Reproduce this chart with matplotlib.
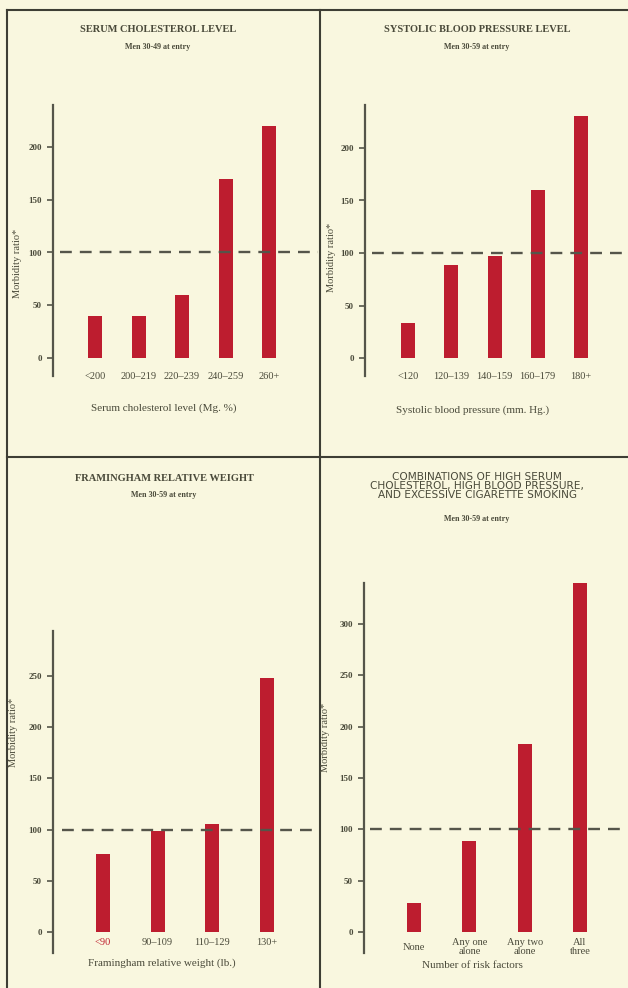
import matplotlib
matplotlib.use("Agg")
import matplotlib.pyplot as plt
from matplotlib.lines import Line2D
from matplotlib.transforms import blended_transform_factory

# ---------------- data ----------------
chol_labels = ["<200", "200\u2013219", "220\u2013239", "240\u2013259", "260+"]
chol_values = [40, 40, 60, 170, 220]

bp_labels = ["<120", "120\u2013139", "140\u2013159", "160\u2013179", "180+"]
bp_values = [33, 89, 97, 160, 230]

wt_labels = ["<90", "90\u2013109", "110\u2013129", "130+"]
wt_values = [76, 99, 105, 248]

risk_labels = ["None", "Any one\nalone", "Any two\nalone", "All\nthree"]
risk_values = [28, 89, 183, 340]

chol_yticks = [0, 50, 100, 150, 200]
bp_yticks = [0, 50, 100, 150, 200]
wt_yticks = [0, 50, 100, 150, 200, 250]
risk_yticks = [0, 50, 100, 150, 200, 250, 300]

# ---------------- style ----------------
W, H = 628, 988
BG = "#f9f7df"
BAR = "#bd1d2f"
INK = "#4a4a3a"
LINE = "#55554a"
FONT = "Liberation Serif"

plt.rcParams["font.family"] = [FONT, "DejaVu Serif"]

fig = plt.figure(figsize=(W / 100, H / 100), dpi=100)
fig.patch.set_facecolor(BG)


def fx(px):
    return px / W


def fy(py):
    return 1 - py / H


def panel(box, y0_px, yref_px, yref_val, xc_first, xc_last, labels, values,
          yticks, lab_y_px, xlabel, xlabel_xy, dash_start_px):
    left, right, top, bottom = box
    ax = fig.add_axes([fx(left), fy(bottom), fx(right - left), (bottom - top) / H])
    ax.set_facecolor("none")
    n = len(values)
    scale = (y0_px - yref_px) / yref_val
    ax.set_ylim(-(bottom - y0_px) / scale, (y0_px - top) / scale)
    sp = (xc_last - xc_first) / (n - 1)
    ax.set_xlim(-(xc_first - left) / sp, (n - 1) + (right - xc_last) / sp)
    ax.bar(range(n), values, width=14 / sp, color=BAR, zorder=2)
    xs = (dash_start_px - left) / (right - left)
    ax.axhline(100, xmin=xs, xmax=1, color=LINE, lw=1.7,
               dashes=(5.0, 3.4), zorder=3)
    for s in ["top", "right", "bottom"]:
        ax.spines[s].set_visible(False)
    ax.spines["left"].set_color(LINE)
    ax.spines["left"].set_linewidth(1.6)
    ax.set_xticks([])
    ax.set_yticks(yticks)
    ax.set_yticklabels([str(t) for t in yticks])
    ax.tick_params(axis="y", direction="out", length=4, width=1.2, color=LINE,
                   pad=4, labelsize=6.5, labelcolor=INK)
    for t in ax.get_yticklabels():
        t.set_fontweight("bold")
    tr = blended_transform_factory(ax.transData, ax.transAxes)
    ly = (bottom - lab_y_px) / (bottom - top)
    for i, lab in enumerate(labels):
        col = "#c0202f" if lab == "<90" else INK
        ax.text(i, ly, lab, transform=tr, ha="center", va="center",
                fontsize=7.5, color=col, linespacing=0.9)
    fig.text(fx(xlabel_xy[0]), fy(xlabel_xy[1]), xlabel, ha="center",
             va="center", fontsize=8, color=INK)
    return ax


# Panel 1: serum cholesterol
panel((53, 318, 105, 376), 358, 147, 200, 95, 269, chol_labels, chol_values,
      chol_yticks, 376, "Serum cholesterol level (Mg. %)", (164, 408), 60)
# Panel 2: systolic blood pressure
panel((365, 627, 105, 376), 358, 148, 200, 408, 581, bp_labels, bp_values,
      bp_yticks, 376, "Systolic blood pressure (mm. Hg.)", (473, 410), 372)
# Panel 3: relative weight
panel((53, 318, 631, 953), 932, 676, 250, 103, 267, wt_labels, wt_values,
      wt_yticks, 942, "Framingham relative weight (lb.)", (162, 963), 62)
# Panel 4: risk factor combinations
panel((364, 627, 583, 953), 932, 624, 300, 414, 580, risk_labels, risk_values,
      risk_yticks, 947, "Number of risk factors", (472, 965), 370)

# titles
fig.text(fx(158), fy(30), "SERUM CHOLESTEROL LEVEL", ha="center", va="center",
         fontsize=7.5, fontweight="bold", color=INK)
fig.text(fx(158), fy(47), "Men 30-49 at entry", ha="center", va="center",
         fontsize=5.8, fontweight="bold", color=INK)
fig.text(fx(477), fy(30), "SYSTOLIC BLOOD PRESSURE LEVEL", ha="center", va="center",
         fontsize=7.5, fontweight="bold", color=INK)
fig.text(fx(477), fy(47), "Men 30-59 at entry", ha="center", va="center",
         fontsize=5.8, fontweight="bold", color=INK)
fig.text(fx(164), fy(478), "FRAMINGHAM RELATIVE WEIGHT", ha="center", va="center",
         fontsize=7.5, fontweight="bold", color=INK)
fig.text(fx(164), fy(495), "Men 30-59 at entry", ha="center", va="center",
         fontsize=5.8, fontweight="bold", color=INK)
fig.text(fx(477), fy(486),
         "COMBINATIONS OF HIGH SERUM\nCHOLESTEROL, HIGH BLOOD PRESSURE,\nAND EXCESSIVE CIGARETTE SMOKING",
         ha="center", va="center", fontsize=7.6, color=INK, linespacing=0.88,
         family=["DejaVu Sans"])
fig.text(fx(477), fy(519), "Men 30-59 at entry", ha="center", va="center",
         fontsize=5.8, fontweight="bold", color=INK)

# y labels
for (x, y) in [(17, 263), (331, 257), (14, 732), (325, 737)]:
    fig.text(fx(x), fy(y), "Morbidity ratio*", rotation=90, ha="center",
             va="center", fontsize=7.5, color=INK)

# frame lines
frame = [((7, 7), (10, 988)), ((7, 628), (10, 10)), ((7, 628), (457, 457)),
         ((320, 320), (10, 988))]
for xs, ys in frame:
    fig.add_artist(Line2D([fx(x) for x in xs], [fy(y) for y in ys],
                          color="#3e3e34", lw=1.5, transform=fig.transFigure))

fig.savefig("out.png", dpi=100, facecolor=BG)
